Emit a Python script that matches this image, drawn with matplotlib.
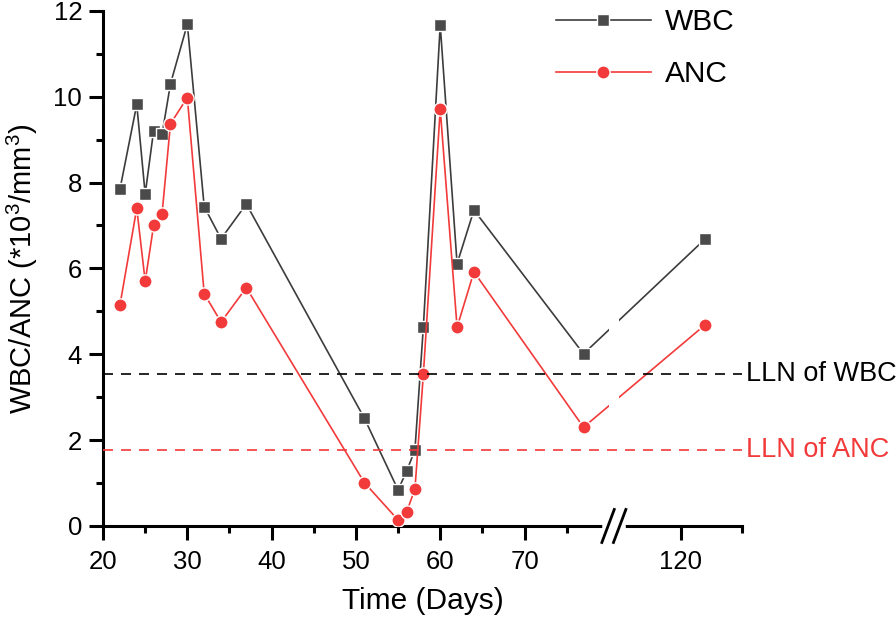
import numpy as np
import matplotlib
matplotlib.use("Agg")
import matplotlib.pyplot as plt
from matplotlib.ticker import FixedLocator

plt.rcParams["font.family"] = ["Liberation Sans", "DejaVu Sans"]
plt.rcParams["mathtext.fontset"] = "custom"
plt.rcParams["mathtext.rm"] = "Liberation Sans"
plt.rcParams["mathtext.it"] = "Liberation Sans:italic"

# data
days = [22, 24, 25, 26, 27, 28, 30, 32, 34, 37, 51, 55, 56, 57, 58, 60, 62, 64, 77, 122]
wbc = [7.84, 9.82, 7.73, 9.21, 9.12, 10.30, 11.69, 7.44, 6.69, 7.50,
       2.51, 0.84, 1.27, 1.77, 4.64, 11.67, 6.11, 7.36, 4.01, 6.69]
anc = [5.14, 7.40, 5.70, 7.00, 7.27, 9.37, 9.98, 5.41, 4.75, 5.55,
       1.01, 0.14, 0.32, 0.86, 3.53, 9.71, 4.63, 5.92, 2.30, 4.69]
lln_wbc = 3.54
lln_anc = 1.77

major_x = [20, 30, 40, 50, 60, 70, 120]
minor_x = [25, 35, 45, 55, 65, 75, 125]

# broken x axis: 20-80 and 115-125, collapsed gap in between
BREAK = (80, 115)
X_KNOTS = [20, 80, 115, 125]
U_KNOTS = [0.0, 60.0, 61.2, 75.84]


def _knots():
    slope_r = (U_KNOTS[-1] - U_KNOTS[-2]) / (X_KNOTS[-1] - X_KNOTS[-2])
    xk = [-1e4] + X_KNOTS + [1e4]
    uk = [U_KNOTS[0] - (X_KNOTS[0] + 1e4)] + U_KNOTS + \
         [U_KNOTS[-1] + (1e4 - X_KNOTS[-1]) * slope_r]
    return np.array(xk), np.array(uk)


XK, UK = _knots()


def fwd(x):
    return np.interp(np.asarray(x, float), XK, UK)


def inv(u):
    return np.interp(np.asarray(u, float), UK, XK)


BLACK = "#3c3c3c"
RED = "#f23a3a"

fig = plt.figure(figsize=(8.96, 6.24), dpi=100)
ax = fig.add_axes([0.115, 0.1571, 0.7135, 0.8255])
ax.set_xscale("function", functions=(fwd, inv))
ax.set_xlim(20, 125)
ax.set_ylim(0, 12)

ax.plot(days, wbc, color=BLACK, lw=1.2, marker="s", ms=8.2,
        mfc="#4a4a4a", mec="white", mew=1.0, label="WBC", zorder=3)
ax.plot(days, anc, color=RED, lw=1.2, marker="o", ms=9.5,
        mfc=RED, mec="white", mew=1.0, label="ANC", zorder=3)

# white band hides the data lines across the break
ax.axvspan(BREAK[0], BREAK[1], color="white", lw=0, zorder=3.5)

ax.axhline(lln_wbc, color="black", lw=1.2, dashes=(6, 4.8), zorder=4)
ax.axhline(lln_anc, color=RED, lw=1.2, dashes=(6, 4.8), zorder=4)
tr = ax.get_yaxis_transform()
ax.text(1.006, lln_wbc, "LLN of WBC", transform=tr, va="center", ha="left",
        fontsize=19.5, color="black")
ax.text(1.006, lln_anc, "LLN of ANC", transform=tr, va="center", ha="left",
        fontsize=19.5, color=RED)

ax.xaxis.set_major_locator(FixedLocator(major_x))
ax.xaxis.set_minor_locator(FixedLocator(minor_x))
ax.set_xticklabels([str(v) for v in major_x])
ax.set_yticks(np.arange(0, 13, 2))
ax.set_yticks(np.arange(1, 12, 2), minor=True)

for s in ("top", "right"):
    ax.spines[s].set_visible(False)
for s in ("left", "bottom"):
    ax.spines[s].set_linewidth(2.2)
ax.tick_params(which="major", length=10, width=2.2, labelsize=18.5, pad=5)
ax.tick_params(axis="x", which="major", pad=7)
ax.tick_params(which="minor", length=5, width=2.2)

ax.set_xlabel("Time (Days)", fontsize=21.5, labelpad=10)
ax.set_ylabel(r"WBC/ANC (*10$^{3}$/mm$^{3}$)", fontsize=21, labelpad=10)

# break glyph on the x axis
bx = ax.transAxes.inverted().transform(ax.transData.transform((sum(BREAK) / 2, 0)))[0]
w_ax = 0.7135 * 896
h_ax = 0.8255 * 624
dx, dy, sep = 6.2 / w_ax, 16.5 / h_ax, 5.8 / w_ax
ax.plot([bx - 9 / w_ax, bx + 9 / w_ax], [0, 0], transform=ax.transAxes,
        color="white", lw=4, clip_on=False, zorder=5)
for off in (-sep, sep):
    ax.plot([bx + off - dx, bx + off + dx], [-dy, dy], transform=ax.transAxes,
            color="black", lw=2.0, clip_on=False, zorder=6)

ax.legend(loc="upper left", bbox_to_anchor=(0.708, 1.005), frameon=False,
          fontsize=21.5, handlelength=3.2, handletextpad=0.45,
          labelspacing=0.8, borderpad=0, borderaxespad=0)

fig.savefig("out.png", dpi=100)
